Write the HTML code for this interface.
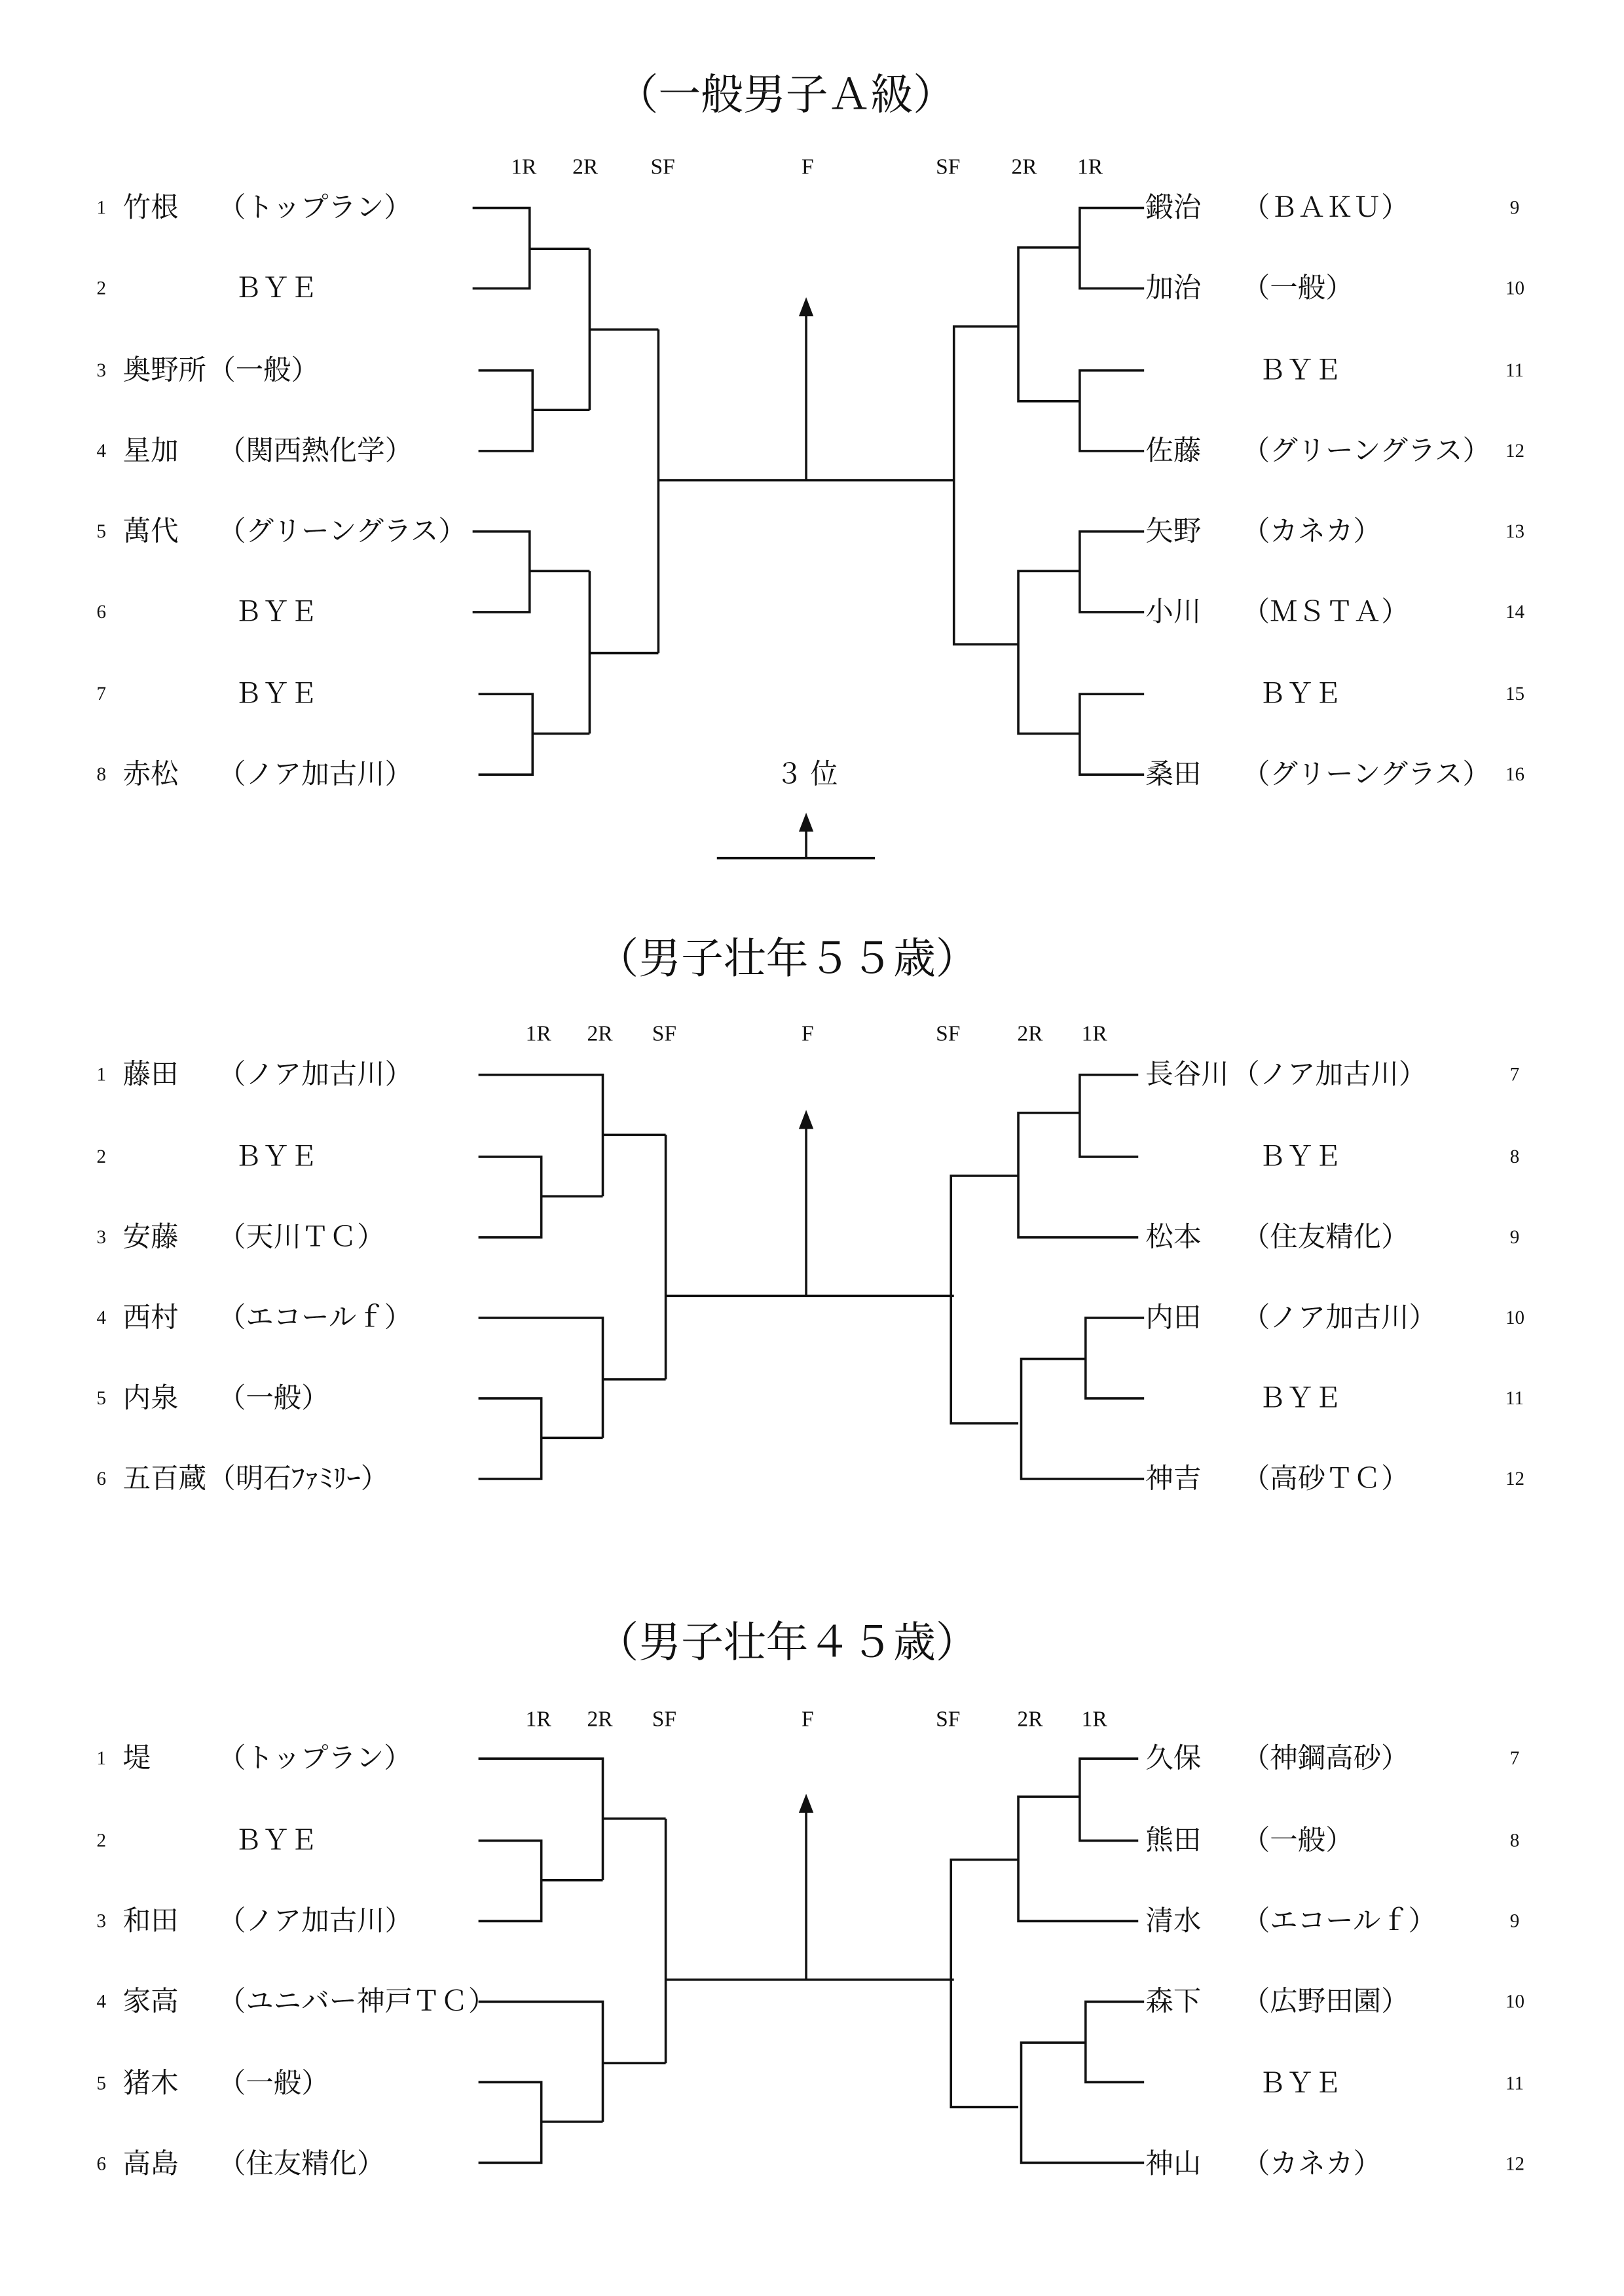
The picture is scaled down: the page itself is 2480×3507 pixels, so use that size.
<!DOCTYPE html>
<html><head><meta charset="utf-8"><style>
html,body{margin:0;padding:0;background:#fff}
svg{display:block}
text{font-family:"Liberation Serif","Noto Serif CJK JP","Noto Serif CJK SC",serif;fill:#111}
.n{font-size:13px}.t{font-size:19px}.h{font-size:15px}.ti{font-size:29px}
line,polyline{stroke:#111;stroke-width:1.6;fill:none}
</style></head><body>
<svg width="2480" height="3507" viewBox="0 0 1110 1568" preserveAspectRatio="none" xmlns="http://www.w3.org/2000/svg">
<g dominant-baseline="central">
<!-- Section 1 -->
<text class="ti" x="537" y="65" text-anchor="middle">（一般男子Ａ級）</text>
<g class="h" text-anchor="middle"><text x="358" y="114">1R</text><text x="400" y="114">2R</text><text x="453" y="114">SF</text><text x="552" y="114">F</text><text x="648" y="114">SF</text><text x="700" y="114">2R</text><text x="745" y="114">1R</text></g>
<g class="n"><text x="66" y="142">1</text><text x="66" y="197">2</text><text x="66" y="253">3</text><text x="66" y="308">4</text><text x="66" y="363">5</text><text x="66" y="418">6</text><text x="66" y="474">7</text><text x="66" y="529">8</text>
<text x="1032" y="142">9</text><text x="1029" y="197">10</text><text x="1029" y="253">11</text><text x="1029" y="308">12</text><text x="1029" y="363">13</text><text x="1029" y="418">14</text><text x="1029" y="474">15</text><text x="1029" y="529">16</text></g>
<g class="t">
<text x="84" y="142">竹根</text><text x="149" y="142">（トップラン）</text>
<text x="160" y="197">ＢＹＥ</text>
<text x="84" y="253">奥野所</text><text x="142" y="253">（一般）</text>
<text x="84" y="308">星加</text><text x="149" y="308">（関西熱化学）</text>
<text x="84" y="363">萬代</text><text x="149" y="363">（グリーングラス）</text>
<text x="160" y="418">ＢＹＥ</text>
<text x="160" y="474">ＢＹＥ</text>
<text x="84" y="529">赤松</text><text x="149" y="529">（ノア加古川）</text>
<text x="783" y="142">鍛治</text><text x="849" y="142">（ＢＡＫＵ）</text>
<text x="783" y="197">加治</text><text x="849" y="197">（一般）</text>
<text x="860" y="253">ＢＹＥ</text>
<text x="783" y="308">佐藤</text><text x="849" y="308">（グリーングラス）</text>
<text x="783" y="363">矢野</text><text x="849" y="363">（カネカ）</text>
<text x="783" y="418">小川</text><text x="849" y="418">（ＭＳＴＡ）</text>
<text x="860" y="474">ＢＹＥ</text>
<text x="783" y="529">桑田</text><text x="849" y="529">（グリーングラス）</text>
<text x="530" y="529">３ 位</text>
</g>
<polyline points="323,142 362,142 362,197 323,197"/><line x1="362" y1="170" x2="403" y2="170"/>
<polyline points="327,253 364,253 364,308 327,308"/><line x1="364" y1="280" x2="403" y2="280"/>
<polyline points="403,170 403,280"/><line x1="403" y1="225" x2="450" y2="225"/>
<polyline points="323,363 362,363 362,418 323,418"/><line x1="362" y1="390" x2="403" y2="390"/>
<polyline points="327,474 364,474 364,529 327,529"/><line x1="364" y1="501" x2="403" y2="501"/>
<polyline points="403,390 403,501"/><line x1="403" y1="446" x2="450" y2="446"/>
<polyline points="450,225 450,446"/><line x1="450" y1="328" x2="652" y2="328"/>
<line x1="551" y1="328" x2="551" y2="214" stroke-width="1.2"/><polygon points="551,203 546,216 556,216" fill="#111"/>
<polyline points="696,223 652,223 652,440 696,440"/>
<polyline points="738,169 696,169 696,274 738,274"/>
<polyline points="782,142 738,142 738,197 782,197"/>
<polyline points="782,253 738,253 738,308 782,308"/>
<polyline points="738,390 696,390 696,501 738,501"/>
<polyline points="782,363 738,363 738,418 782,418"/>
<polyline points="782,474 738,474 738,529 782,529"/>
<line x1="551" y1="586" x2="551" y2="566" stroke-width="1.2"/><polygon points="551,555 546,568 556,568" fill="#111"/>
<line x1="490" y1="586" x2="598" y2="586"/>

<!-- Section 2 -->
<text class="ti" x="538" y="655" text-anchor="middle">（男子壮年５５歳）</text>
<g class="h" text-anchor="middle"><text x="368" y="706">1R</text><text x="410" y="706">2R</text><text x="454" y="706">SF</text><text x="552" y="706">F</text><text x="648" y="706">SF</text><text x="704" y="706">2R</text><text x="748" y="706">1R</text></g>
<g class="n"><text x="66" y="734">1</text><text x="66" y="790">2</text><text x="66" y="845">3</text><text x="66" y="900">4</text><text x="66" y="955">5</text><text x="66" y="1010">6</text>
<text x="1032" y="734">7</text><text x="1032" y="790">8</text><text x="1032" y="845">9</text><text x="1029" y="900">10</text><text x="1029" y="955">11</text><text x="1029" y="1010">12</text></g>
<g class="t">
<text x="84" y="734">藤田</text><text x="149" y="734">（ノア加古川）</text>
<text x="160" y="790">ＢＹＥ</text>
<text x="84" y="845">安藤</text><text x="149" y="845">（天川ＴＣ）</text>
<text x="84" y="900">西村</text><text x="149" y="900">（エコールｆ）</text>
<text x="84" y="955">内泉</text><text x="149" y="955">（一般）</text>
<text x="84" y="1010">五百蔵</text><text x="142" y="1010">（明石ﾌｧﾐﾘｰ）</text>
<text x="783" y="734">長谷川</text><text x="842" y="734">（ノア加古川）</text>
<text x="860" y="790">ＢＹＥ</text>
<text x="783" y="845">松本</text><text x="849" y="845">（住友精化）</text>
<text x="783" y="900">内田</text><text x="849" y="900">（ノア加古川）</text>
<text x="860" y="955">ＢＹＥ</text>
<text x="783" y="1010">神吉</text><text x="849" y="1010">（高砂ＴＣ）</text>
</g>
<g>
<polyline points="327,734 412,734 412,817"/>
<polyline points="327,790 370,790 370,845 327,845"/><line x1="370" y1="817" x2="412" y2="817"/>
<line x1="412" y1="775" x2="455" y2="775"/>
<polyline points="327,900 412,900 412,982"/>
<polyline points="327,955 370,955 370,1010 327,1010"/><line x1="370" y1="982" x2="412" y2="982"/>
<line x1="412" y1="942" x2="455" y2="942"/>
<polyline points="455,775 455,942"/><line x1="455" y1="885" x2="652" y2="885"/>
<line x1="551" y1="885" x2="551" y2="770" stroke-width="1.2"/><polygon points="551,758 546,771 556,771" fill="#111"/>
<polyline points="696,803 650,803 650,972 696,972"/>
<polyline points="738,760 696,760 696,845 778,845"/>
<polyline points="778,734 738,734 738,790 778,790"/>
<polyline points="782,900 742,900 742,955 782,955"/>
<polyline points="742,928 698,928 698,1010 782,1010"/>
</g>

<!-- Section 3 -->
<text class="ti" x="538" y="1122" text-anchor="middle">（男子壮年４５歳）</text>
<g class="h" text-anchor="middle"><text x="368" y="1174">1R</text><text x="410" y="1174">2R</text><text x="454" y="1174">SF</text><text x="552" y="1174">F</text><text x="648" y="1174">SF</text><text x="704" y="1174">2R</text><text x="748" y="1174">1R</text></g>
<g class="n"><text x="66" y="1201">1</text><text x="66" y="1257">2</text><text x="66" y="1312">3</text><text x="66" y="1367">4</text><text x="66" y="1423">5</text><text x="66" y="1478">6</text>
<text x="1032" y="1201">7</text><text x="1032" y="1257">8</text><text x="1032" y="1312">9</text><text x="1029" y="1367">10</text><text x="1029" y="1423">11</text><text x="1029" y="1478">12</text></g>
<g class="t">
<text x="84" y="1201">堤</text><text x="149" y="1201">（トップラン）</text>
<text x="160" y="1257">ＢＹＥ</text>
<text x="84" y="1312">和田</text><text x="149" y="1312">（ノア加古川）</text>
<text x="84" y="1367">家高</text><text x="149" y="1367">（ユニバー神戸ＴＣ）</text>
<text x="84" y="1423">猪木</text><text x="149" y="1423">（一般）</text>
<text x="84" y="1478">高島</text><text x="149" y="1478">（住友精化）</text>
<text x="783" y="1201">久保</text><text x="849" y="1201">（神鋼高砂）</text>
<text x="783" y="1257">熊田</text><text x="849" y="1257">（一般）</text>
<text x="783" y="1312">清水</text><text x="849" y="1312">（エコールｆ）</text>
<text x="783" y="1367">森下</text><text x="849" y="1367">（広野田園）</text>
<text x="860" y="1423">ＢＹＥ</text>
<text x="783" y="1478">神山</text><text x="849" y="1478">（カネカ）</text>
</g>
<g transform="translate(0,467)">
<polyline points="327,734 412,734 412,817"/>
<polyline points="327,790 370,790 370,845 327,845"/><line x1="370" y1="817" x2="412" y2="817"/>
<line x1="412" y1="775" x2="455" y2="775"/>
<polyline points="327,900 412,900 412,982"/>
<polyline points="327,955 370,955 370,1010 327,1010"/><line x1="370" y1="982" x2="412" y2="982"/>
<line x1="412" y1="942" x2="455" y2="942"/>
<polyline points="455,775 455,942"/><line x1="455" y1="885" x2="652" y2="885"/>
<line x1="551" y1="885" x2="551" y2="770" stroke-width="1.2"/><polygon points="551,758 546,771 556,771" fill="#111"/>
<polyline points="696,803 650,803 650,972 696,972"/>
<polyline points="738,760 696,760 696,845 778,845"/>
<polyline points="778,734 738,734 738,790 778,790"/>
<polyline points="782,900 742,900 742,955 782,955"/>
<polyline points="742,928 698,928 698,1010 782,1010"/>
</g>
</g>
</svg>
</body></html>
